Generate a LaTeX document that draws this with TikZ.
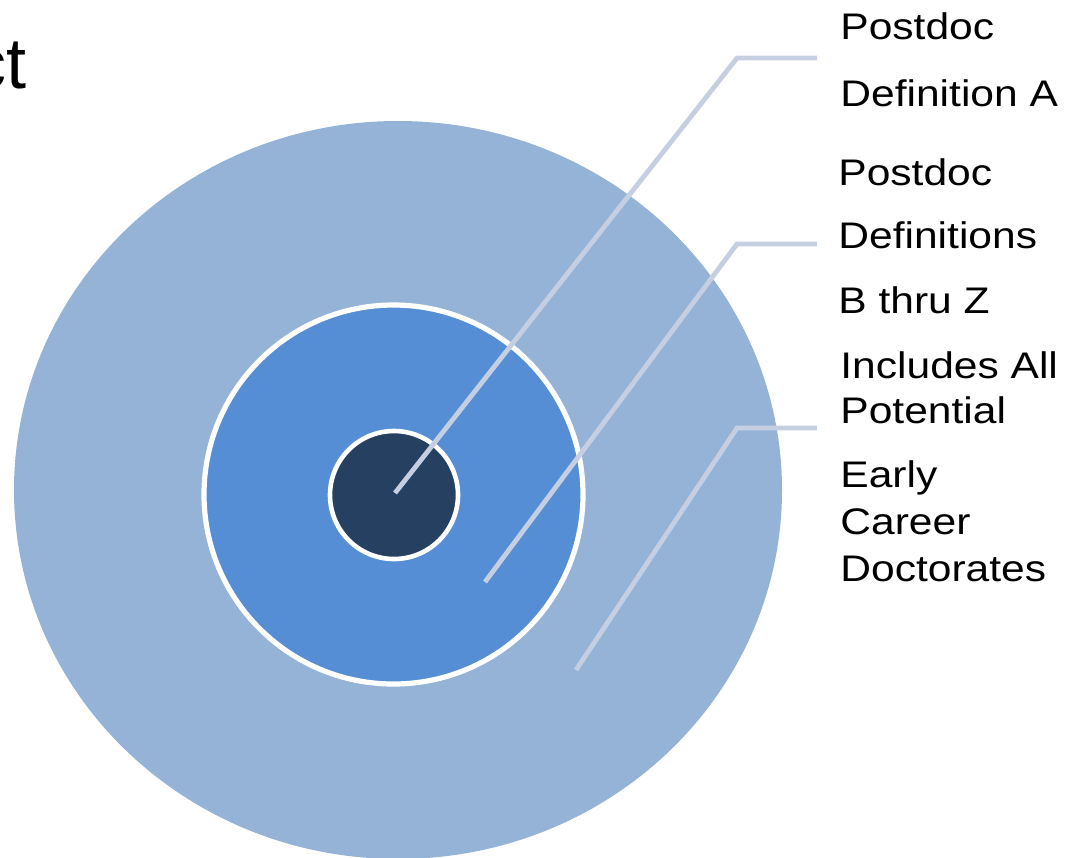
\documentclass[tikz,border=0pt]{standalone}
\usepackage{fontspec}
\setmainfont{Liberation Sans}[FakeStretch=1.15]
\newfontfamily\titlefont{Liberation Sans}
\usetikzlibrary{shapes.geometric}
\definecolor{outerblue}{HTML}{95B3D7}
\definecolor{midblue}{HTML}{558ED5}
\definecolor{coreblue}{HTML}{254061}
\definecolor{leadgray}{HTML}{C6CFE2}
\tikzstyle{lbl} = [anchor=base west, inner sep=0pt, font=\fontsize{18.5}{21}\selectfont]
\tikzstyle{ring} = [circle, draw=white, line width=2.6pt, inner sep=0pt]
\tikzstyle{leader} = [draw=leadgray, line width=2.4pt]

\begin{document}
\begin{tikzpicture}[x=0.5pt,y=-0.5pt]
\useasboundingbox (0,0) rectangle (1074,857);

\node (outer) [ellipse, fill=outerblue, inner sep=0pt, minimum width=384pt, minimum height=369pt] at (398,490) {};
\node (middle) [ring, fill=midblue, minimum size=189.5pt] at (393.5,494.5) {};
\node (core) [ring, fill=coreblue, minimum size=64pt, line width=2.3pt] at (394,495) {};

\node (title) [anchor=base east, inner sep=0pt, font=\titlefont\fontsize{36}{43}\selectfont] at (27,88) {ct};

\node (postA) [lbl] at (840,39) {Postdoc};
\node (defA) [lbl] at (840,106) {Definition A};
\node (postB) [lbl] at (838,185) {Postdoc};
\node (defB) [lbl] at (838,248) {Definitions};
\node (thruB) [lbl] at (838,313) {B thru Z};
\node (inclC) [lbl] at (840,378) {Includes All};
\node (potC) [lbl] at (840,423) {Potential};
\node (earlyC) [lbl] at (840,487) {Early};
\node (careerC) [lbl] at (840,534) {Career};
\node (docC) [lbl] at (840,581) {Doctorates};

\coordinate (tipA) at (395,493);
\coordinate (bendA) at (737,58);
\coordinate (endA) at (817,58);
\coordinate (tipB) at (485,582);
\coordinate (bendB) at (737,244);
\coordinate (endB) at (817,244);
\coordinate (tipC) at (576,670);
\coordinate (bendC) at (737,428);
\coordinate (endC) at (817,428);

\draw[leader] (tipA) -- (bendA) -- (endA);
\draw[leader] (tipB) -- (bendB) -- (endB);
\draw[leader] (tipC) -- (bendC) -- (endC);

\end{tikzpicture}
\end{document}
